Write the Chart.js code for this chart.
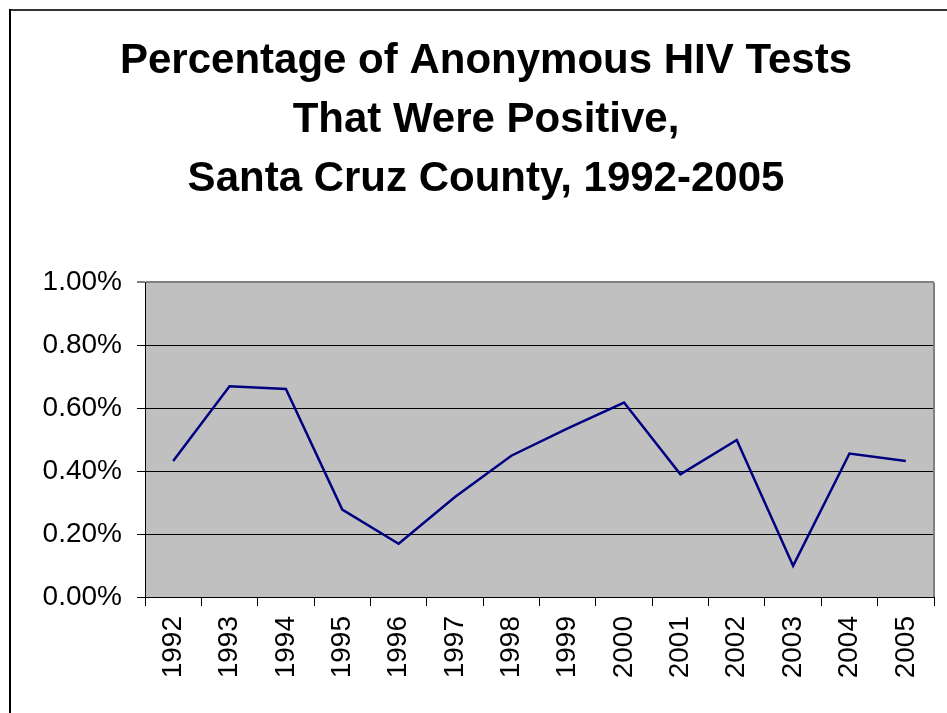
<!DOCTYPE html>
<html>
<head>
<meta charset="utf-8">
<script src="https://cdn.jsdelivr.net/npm/chart.js@4"></script>
<style>
body{margin:0;background:#fff;}
#wrap{width:947px;height:713px;position:relative;}
</style>
</head>
<body>
<div id="wrap"><canvas id="grafik"></canvas></div>
<script>
const years = ['1992','1993','1994','1995','1996','1997','1998','1999','2000','2001','2002','2003','2004','2005'];
const positivePct = [0.432,0.670,0.661,0.278,0.169,0.318,0.449,0.536,0.618,0.390,0.499,0.099,0.456,0.432];
const titleLines = ['Percentage of Anonymous HIV Tests','That Were Positive,','Santa Cruz County, 1992-2005'];
const yTicks = [0,0.2,0.4,0.6,0.8,1.0];

const FONT = '"Liberation Sans", Arial, sans-serif';

// grey plot area + frame round the picture
const plotBg = {
id:'plotBg',
beforeDraw(chart){
const c = chart.ctx, a = chart.chartArea;
c.save();
c.fillStyle = '#c0c0c0';
c.fillRect(a.left, a.top, a.right - a.left, a.bottom - a.top);
c.restore();
},
beforeDatasetsDraw(chart){
const c = chart.ctx, a = chart.chartArea;
c.save();
c.strokeStyle = '#808080';
c.lineWidth = 2;
c.beginPath();
c.moveTo(a.right, a.top);
c.lineTo(a.right, a.bottom);
c.stroke();
c.restore();
},
afterDraw(chart){
const c = chart.ctx;
c.save();
c.lineWidth = 2;
c.strokeStyle = '#333';
c.beginPath();
c.moveTo(10, 10);
c.lineTo(947, 10);
c.stroke();
c.strokeStyle = '#000';
c.beginPath();
c.moveTo(10, 9);
c.lineTo(10, 713);
c.stroke();
c.restore();
}
};

const ctx = document.getElementById('grafik');

const chart = new Chart(ctx,{
type:'line',
data:{
labels:years,
datasets:[{
label:'Positive',
data:positivePct,
borderColor:'#000080',
borderWidth:2.5,
pointRadius:0,
tension:0,
fill:false
}]
},
options:{
responsive:true,
maintainAspectRatio:false,
animation:false,
layout:{padding:{left:38,right:13,top:32,bottom:0}},
plugins:{
legend:{display:false},
tooltip:{enabled:false},
title:{
display:true,
text:titleLines,
color:'#000',
font:{family:FONT,size:42,weight:'bold',lineHeight:1.4},
padding:{top:0,bottom:74}
}
},
scales:{
x:{
offset:true,
grid:{display:true,drawOnChartArea:false,offset:true,color:'#000',tickLength:9,lineWidth:1},
border:{color:'#000',width:1},
ticks:{color:'#000',font:{family:FONT,size:28},maxRotation:90,minRotation:90,padding:10,autoSkip:false},
afterFit(s){ s.height = 116; s.paddingLeft = 0; s.paddingRight = 0; }
},
y:{
min:0,
max:1,
afterBuildTicks(s){ s.ticks = yTicks.map(v => ({value:v})); },
grid:{
color:c => c.tick && c.tick.value === 1 ? '#808080' : '#000',
lineWidth:c => c.tick && c.tick.value === 1 ? 2 : 1,
tickLength:8
},
border:{color:'#000',width:1},
ticks:{color:'#000',font:{family:FONT,size:28},padding:15,callback:v => v.toFixed(2) + '%'},
afterFit(s){ s.width = 107; }
}
}
},
plugins:[plotBg]
});
</script>
</body>
</html>
